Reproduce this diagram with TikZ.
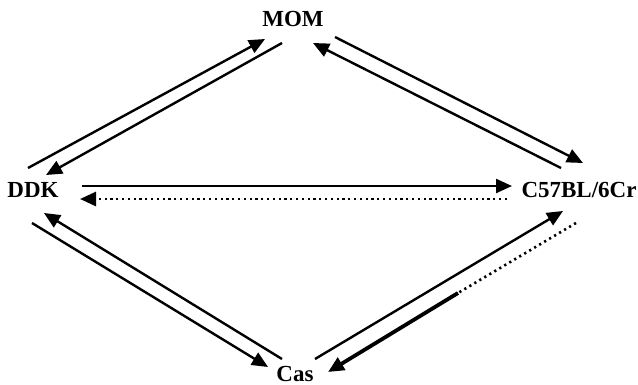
\documentclass[tikz,border=0pt]{standalone}
\usepackage{fontspec}
\setmainfont{Liberation Serif}
\usetikzlibrary{arrows.meta}
\tikzset{
  lbl/.style={anchor=base,inner sep=0pt,font=\fontsize{23}{25}\selectfont\bfseries},
  arr/.style={line width=2.4pt,-{Triangle[length=16pt,width=14pt]}},
  dotline/.style={line width=2.6pt,dash pattern=on 2.2pt off 3.6pt},
  thickline/.style={line width=3.8pt}
}
\begin{document}
\begin{tikzpicture}[x=1pt,y=-1pt]
\path[use as bounding box] (0,0) rectangle (638,384);
% labels
\node[lbl] (mom) at (293,26) {MOM};
\node[lbl] (ddk) at (33,197) {DDK};
\node[lbl] (c57) at (579,197) {C57BL/6Cr};
\node[lbl] (cas) at (295,381) {Cas};
% endpoint coordinates
\coordinate (dm1) at (28,168);   \coordinate (dm2) at (265,39);
\coordinate (md1) at (282,43);   \coordinate (md2) at (46,175);
\coordinate (cm1) at (561,168);  \coordinate (cm2) at (313,43);
\coordinate (mc1) at (335,37);   \coordinate (mc2) at (583,163);
\coordinate (dc1) at (82,186);   \coordinate (dc2) at (512,186);
\coordinate (cd1) at (507,199);  \coordinate (cd2) at (80,199);
\coordinate (da1) at (32,223);   \coordinate (da2) at (268,367);
\coordinate (ad1) at (282,359);  \coordinate (ad2) at (44,213);
\coordinate (ac1) at (315,359);  \coordinate (ac2) at (563,211);
\coordinate (ca1) at (576,223);  \coordinate (cab) at (458,293);
\coordinate (ca2) at (328,372);
% connectors
\draw[arr] (dm1) -- (dm2);
\draw[arr] (md1) -- (md2);
\draw[arr] (cm1) -- (cm2);
\draw[arr] (mc1) -- (mc2);
\draw[arr] (dc1) -- (dc2);
\draw[arr,line width=2.6pt,dash pattern=on 2.2pt off 3.6pt] (cd1) -- (cd2);
\draw[arr] (da1) -- (da2);
\draw[arr] (ad1) -- (ad2);
\draw[arr] (ac1) -- (ac2);
\draw[dotline] (ca1) -- (cab);
\draw[thickline,-{Triangle[length=16pt,width=14pt]}] (cab) -- (ca2);
\end{tikzpicture}
\end{document}
